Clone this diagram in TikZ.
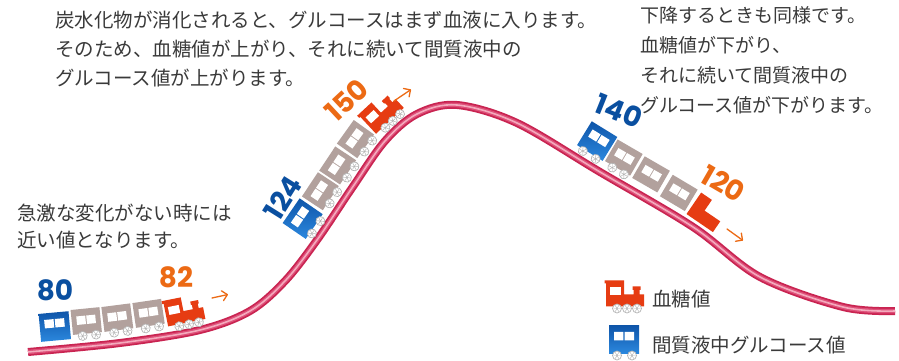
\documentclass[tikz,border=0pt]{standalone}
\usepackage{fontspec}
\setmainfont{Noto Sans CJK JP}
\newfontfamily\numfont{Poppins}
\usetikzlibrary{arrows.meta,decorations.markings}

\definecolor{txt}{HTML}{3A3A3A}
\definecolor{numblue}{HTML}{0A4FA0}
\definecolor{numorange}{HTML}{EC6A14}
\definecolor{locored}{HTML}{E63C12}
\definecolor{cargray}{HTML}{B2A19D}
\definecolor{bluetop}{HTML}{0E55A9}
\definecolor{bluebot}{HTML}{2C88DE}
\definecolor{trackdark}{HTML}{C92451}
\definecolor{trackmid}{HTML}{DE5079}
\definecolor{tracklight}{HTML}{F4AABD}
\definecolor{wheelrim}{HTML}{B4B4B4}

% one wheel: white disc with light spokes
\newcommand\trainwheel[2]{%
  \begin{scope}[shift={(#1,#2)}]
    \filldraw[fill=white,draw=wheelrim,line width=0.7pt] (0,0) circle[radius=4.5];
    \draw[wheelrim,line width=0.45pt] (0:3.5)--(180:3.5) (60:3.5)--(240:3.5) (120:3.5)--(300:3.5);
  \end{scope}}

% passenger car, origin at the middle of the body's lower edge
\newcommand\graycar[4]{%
  \begin{scope}[shift={(#1,#2)},rotate=#3]
    \fill[cargray] (-14.5,0) rectangle (14.5,25);
    \fill[white] (-9.5,9.5) rectangle (-0.5,18) (0.5,9.5) rectangle (9.5,18);
    \ifnum#4=1 \trainwheel{-5}{-2}\trainwheel{8.5}{-2}\fi
  \end{scope}}

% blue tail car
\newcommand\bluecar[4]{%
  \begin{scope}[shift={(#1,#2)},rotate=#3]
    \shade[top color=bluetop,bottom color=bluebot] (-15,0) rectangle (15,28);
    \fill[white] (-10,13) rectangle (-0.6,21.5) (0.6,13) rectangle (10,21.5);
    \ifnum#4=1 \trainwheel{-7}{-2}\trainwheel{8}{-2}\fi
  \end{scope}}

% red locomotive: cab at the back, boiler and chimney at the front
\newcommand\redloco[4]{%
  \begin{scope}[shift={(#1,#2)},rotate=#3]
    \fill[locored] (-19,0) -- (-19,23) -- (-20.5,23) -- (-20.5,26) -- (-1,26) -- (-1,12)
      -- (8.5,12) -- (8.5,16.5) -- (7.5,16.5) -- (7.5,20) -- (15.5,20) -- (15.5,16.5)
      -- (14.5,16.5) -- (14.5,12) -- (19,12) -- (19,0) -- cycle;
    \fill[white] (-15.5,11) rectangle (-4.5,19);
    \ifnum#4=1 \trainwheel{-8}{-2}\trainwheel{2}{-2}\trainwheel{12}{-2}\fi
  \end{scope}}

% plain locomotive silhouette
\newcommand\redcab[3]{%
  \begin{scope}[shift={(#1,#2)},rotate=#3]
    \fill[locored] (-16,0) -- (-16,26) -- (-3,26) -- (-3,13) -- (16,13) -- (16,0) -- cycle;
  \end{scope}}

\def\trackpath{plot[smooth,tension=0.55] coordinates {(28,9) (120,18) (200,31) (250,50)
  (285,80) (317,121) (352,173) (385,220) (417,247) (457,256) (517,238) (600,189)
  (693,134) (760,84) (843,54) (895,50)}}

\begin{document}
\begin{tikzpicture}[x=1pt,y=1pt,
  lbl/.style={font=\fontsize{19.5}{29}\selectfont, text=txt, inner sep=0pt, anchor=base west},
  lblr/.style={lbl, font=\fontsize{19}{29}\selectfont},
  num/.style={font=\numfont\bfseries\fontsize{28}{30}\selectfont, inner sep=0pt},
  dirarrow/.style={draw=numorange, line width=1.3pt, line cap=round,
    -{Straight Barb[length=5pt,width=10pt,round]}}]
\useasboundingbox (0,0) rectangle (899,361);
\fill[white] (0,0) rectangle (899,361);

% track
\draw[line width=8pt, trackdark] \trackpath;
\draw[line width=4.5pt, trackmid] \trackpath;
\draw[line width=1.6pt, tracklight] \trackpath;

% trains riding on the track
\path[decorate, decoration={markings,
  mark=at position 29pt with {\bluecar{0}{9}{0}{0}},
  mark=at position 61pt with {\graycar{0}{13}{0}{1}},
  mark=at position 93pt with {\graycar{0}{13}{0}{1}},
  mark=at position 125pt with {\graycar{0}{13}{0}{1}},
  mark=at position 162pt with {\redloco{0}{10}{0}{1}},
  mark=at position 335pt with {\bluecar{0}{10}{0}{1}},
  mark=at position 368pt with {\graycar{0}{12}{0}{1}},
  mark=at position 399pt with {\graycar{0}{12}{0}{1}},
  mark=at position 430pt with {\graycar{0}{12}{0}{1}},
  mark=at position 463pt with {\redloco{0}{10.5}{0}{1}},
  mark=at position 670pt with {\bluecar{0}{11}{0}{1}},
  mark=at position 702pt with {\graycar{0}{12}{0}{1}},
  mark=at position 734pt with {\graycar{0}{11}{0}{0}},
  mark=at position 767pt with {\graycar{0}{9}{0}{0}},
  mark=at position 800pt with {\redcab{0}{7}{0}}}] \trackpath;

% values
\node[num, text=numblue] (n80) at (55,71) {80};
\node[num, text=numorange] (n82) at (176,84) {82};
\node[num, text=numblue, rotate=58] (n124) at (283,163) {124};
\node[num, text=numorange, rotate=43] (n150) at (347,261) {150};
\node[num, text=numblue, rotate=-22] (n140) at (619,250) {140};
\node[num, text=numorange, rotate=-30] (n120) at (723.5,177.5) {120};

% direction of travel
\coordinate (a1s) at (212,63); \coordinate (a1e) at (228,66.5);
\coordinate (a2s) at (394,260); \coordinate (a2e) at (411,271.5);
\coordinate (a3s) at (727,132); \coordinate (a3e) at (743,120.5);
\draw[dirarrow] (a1s) -- (a1e);
\draw[dirarrow] (a2s) -- (a2e);
\draw[dirarrow] (a3s) -- (a3e);

% explanations
\node[lbl] (t1) at (55,333.6) {炭水化物が消化されると、グルコースはまず血液に入ります。};
\node[lbl] (t2) at (55,304.6) {そのため、血糖値が上がり、それに続いて間質液中の};
\node[lbl] (t3) at (55,275.6) {グルコース値が上がります。};
\node[lblr] (r1) at (640,338.6) {下降するときも同様です。};
\node[lblr] (r2) at (640,308.6) {血糖値が下がり、};
\node[lblr] (r3) at (640,278.6) {それに続いて間質液中の};
\node[lblr] (r4) at (640,248.6) {グルコース値が下がります。};
\node[lbl] (s1) at (17,140.6) {急激な変化がない時には};
\node[lbl] (s2) at (17,113.6) {近い値となります。};

% legend
\redloco{625}{54.5}{0}{1}
\bluecar{624}{7.5}{0}{1}
\node[lbl] (leg1) at (652,54.6) {血糖値};
\node[lbl] (leg2) at (652,8.6) {間質液中グルコース値};
\end{tikzpicture}
\end{document}
